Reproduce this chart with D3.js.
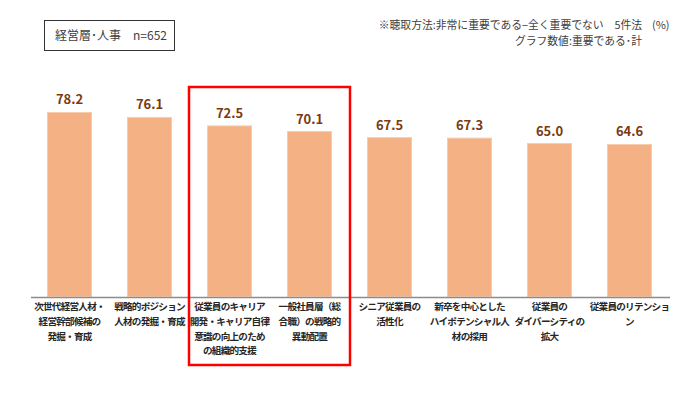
<!DOCTYPE html>
<html><head><meta charset="utf-8">
<script src="https://cdn.jsdelivr.net/npm/d3@7"></script>
<style>body{margin:0;background:#fff;} svg{display:block;font-family:"Noto Sans CJK JP","Noto Sans",sans-serif;}</style>
</head><body>
<script>
const categories = [
  ["次世代経営人材・","経営幹部候補の","発掘・育成"],
  ["戦略的ポジション","人材の発掘・育成"],
  ["従業員のキャリア","開発・キャリア自律","意識の向上のため","の組織的支援"],
  ["一般社員層（総","合職）の戦略的","異動配置"],
  ["シニア従業員の","活性化"],
  ["新卒を中心とした","ハイポテンシャル人","材の採用"],
  ["従業員の","ダイバーシティの","拡大"],
  ["従業員のリテンショ","ン"]
];
const values = [78.2, 76.1, 72.5, 70.1, 67.5, 67.3, 65.0, 64.6];
const highlighted = [2, 3];
const titleText = "経営層･人事　n=652";
const noteLines = ["※聴取方法:非常に重要である−全く重要でない　5件法", "グラフ数値:重要である･計"];
const unitText = "(%)";

const W = 700, H = 400;
const svg = d3.select("body").append("svg").attr("width", W).attr("height", H);
const baseY = 296.5;
const x = d3.scaleBand().domain(d3.range(values.length)).range([29.5, 669.5]).paddingInner(0.45).paddingOuter(0.225);
const y = d3.scaleLinear().domain([0, 100]).range([baseY, baseY - 235.3]);

svg.selectAll("rect.bar").data(values).enter().append("rect")
  .attr("class","bar")
  .attr("x", (d,i) => x(i))
  .attr("y", d => y(d))
  .attr("width", x.bandwidth())
  .attr("height", d => baseY - y(d))
  .attr("fill", "#F4B183")
  .attr("stroke", "#F8CBAD").attr("stroke-width", 1);

svg.selectAll("text.val").data(values).enter().append("text")
  .attr("x", (d,i) => x(i) + x.bandwidth()/2)
  .attr("y", d => y(d) - 8)
  .attr("text-anchor","middle")
  .attr("font-size", 13).attr("font-weight","bold")
  .attr("fill", "#7B3A10")
  .text(d => d.toFixed(1));

svg.append("line").attr("x1", 31).attr("x2", 670).attr("y1", 297.5).attr("y2", 297.5)
  .attr("stroke", "#8C8C8C").attr("stroke-width", 1.5);

const cg = svg.selectAll("g.cat").data(categories).enter().append("g")
  .attr("transform", (d,i) => `translate(${x(i) + x.bandwidth()/2},0)`);
cg.each(function(lines){
  const g = d3.select(this);
  lines.forEach((t, j) => {
    g.append("text").attr("x", 0).attr("y", 310 + j*14.8)
      .attr("text-anchor","middle").attr("font-size", 9.6).attr("font-weight","bold")
      .attr("letter-spacing", -0.75)
      .attr("fill", "#262626").text(t);
  });
});

const hx0 = x(highlighted[0]) - 18.5, hx1 = x(highlighted[1]) + x.bandwidth() + 18.5;
svg.append("rect").attr("x", hx0).attr("y", 87).attr("width", hx1 - hx0).attr("height", 278)
  .attr("fill","none").attr("stroke","#FF0000").attr("stroke-width", 2.5);

svg.append("rect").attr("x", 44.5).attr("y", 20.5).attr("width", 130).attr("height", 30)
  .attr("fill","#fff").attr("stroke","#333").attr("stroke-width",1);
svg.append("text").attr("x", 55).attr("y", 40).attr("font-size", 12).attr("fill","#404040").text(titleText);

noteLines.forEach((t,j) => {
  svg.append("text").attr("x", 642).attr("y", 29 + j*15.5).attr("text-anchor","end")
    .attr("font-size", 10.8).attr("fill","#404040").text(t);
});
svg.append("text").attr("x", 652).attr("y", 29).attr("font-size", 11).attr("fill","#404040").text(unitText);
</script>
</body></html>
